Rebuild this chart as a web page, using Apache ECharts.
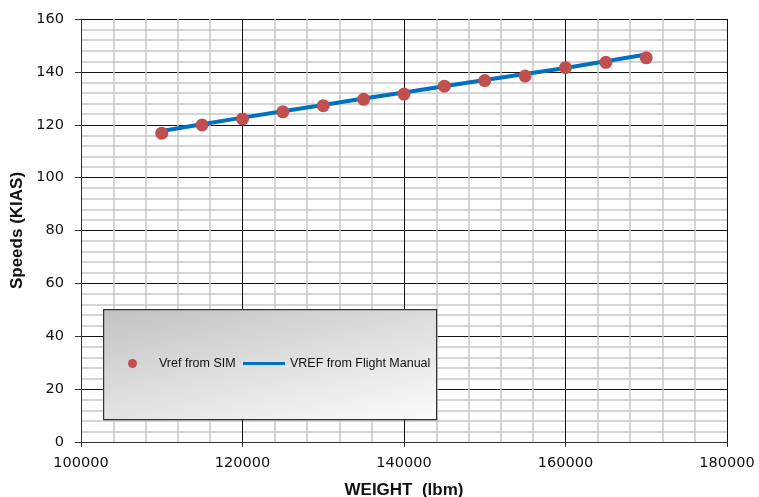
<!DOCTYPE html>
<html><head><meta charset="utf-8">
<script src="https://cdn.jsdelivr.net/npm/echarts@6/dist/echarts.min.js"></script>
<style>html,body{margin:0;padding:0;background:#fff}#c{width:759px;height:497px}</style>
</head><body><div id="c"></div>
<script>
const weights = [110000,115000,120000,125000,130000,135000,140000,145000,150000,155000,160000,165000,170000];
const vrefSim = [116.8,119.9,122.2,124.9,127.2,129.6,131.6,134.6,136.7,138.4,141.6,143.6,145.3];
const vrefManual = [117.6,120.2,122.7,125.1,127.5,129.9,132.2,134.6,136.9,139.2,141.5,144.0,146.6];
const seriesNames = ['Vref from SIM','VREF from Flight Manual'];
const xTitle = 'WEIGHT  (lbm)';
const yTitle = 'Speeds (KIAS)';

const chart = echarts.init(document.getElementById('c'));
const tickFont = {fontFamily:'DejaVu Sans', fontSize:14.5, color:'#111'};
const legendText = {fontFamily:'Liberation Sans',fontSize:12.5,color:'#111'};
chart.setOption({
  animation:false,
  backgroundColor:'#fff',
  grid:{left:81,right:32,top:19,bottom:55,containLabel:false,outerBoundsMode:'none'},
  xAxis:{type:'value',min:100000,max:180000,interval:20000,
    name:xTitle,nameLocation:'middle',nameGap:40,
    nameTextStyle:{fontFamily:'Liberation Sans',fontWeight:'bold',fontSize:17,color:'#111'},
    axisLine:{show:true,lineStyle:{color:'#333',width:1}},
    axisTick:{show:true,length:5,lineStyle:{color:'#333'}},
    axisLabel:Object.assign({margin:14,formatter:v=>String(v)},tickFont),
    splitLine:{show:true,lineStyle:{color:'#111',width:1}},
    minorTick:{show:false,splitNumber:5},
    minorSplitLine:{show:true,lineStyle:{color:'#c8c8c8',width:1.5}}
  },
  yAxis:{type:'value',min:0,max:160,interval:20,
    name:yTitle,nameLocation:'middle',nameGap:53,nameRotate:90,
    nameTextStyle:{fontFamily:'Liberation Sans',fontWeight:'bold',fontSize:17,color:'#111'},
    axisLine:{show:true,lineStyle:{color:'#333',width:1}},
    axisTick:{show:true,length:6,lineStyle:{color:'#333'}},
    axisLabel:Object.assign({margin:17},tickFont),
    splitLine:{show:true,lineStyle:{color:'#111',width:1}},
    minorTick:{show:false,splitNumber:5},
    minorSplitLine:{show:true,lineStyle:{color:'#c8c8c8',width:1.5}}
  },
  graphic:[{type:'rect',left:103,top:309,z:50,
    shape:{x:0,y:0,width:333,height:110},
    style:{fill:new echarts.graphic.LinearGradient(0,0,43,180,[{offset:0,color:'#c2c2c2'},{offset:1,color:'#fcfcfc'}],true),
      stroke:'#333',lineWidth:1.2}}],
  legend:[
    {data:[seriesNames[0]],left:128,top:357,padding:0,z:60,icon:'circle',itemWidth:9,itemHeight:9,
     textStyle:Object.assign({padding:[0,0,0,17]},legendText)},
    {data:[seriesNames[1]],left:243,top:357,padding:0,z:60,icon:'rect',itemWidth:42,itemHeight:3,
     textStyle:Object.assign({padding:[0,0,0,0]},legendText)}
  ],
  series:[
    {name:seriesNames[1],type:'line',data:weights.map((w,i)=>[w,vrefManual[i]]),
     symbol:'none',lineStyle:{color:'#0070c0',width:4},itemStyle:{color:'#0070c0'},z:3},
    {name:seriesNames[0],type:'scatter',data:weights.map((w,i)=>[w,vrefSim[i]]),
     symbolSize:13,itemStyle:{color:'#c0504d',opacity:1},z:4}
  ]
});
</script></body></html>
